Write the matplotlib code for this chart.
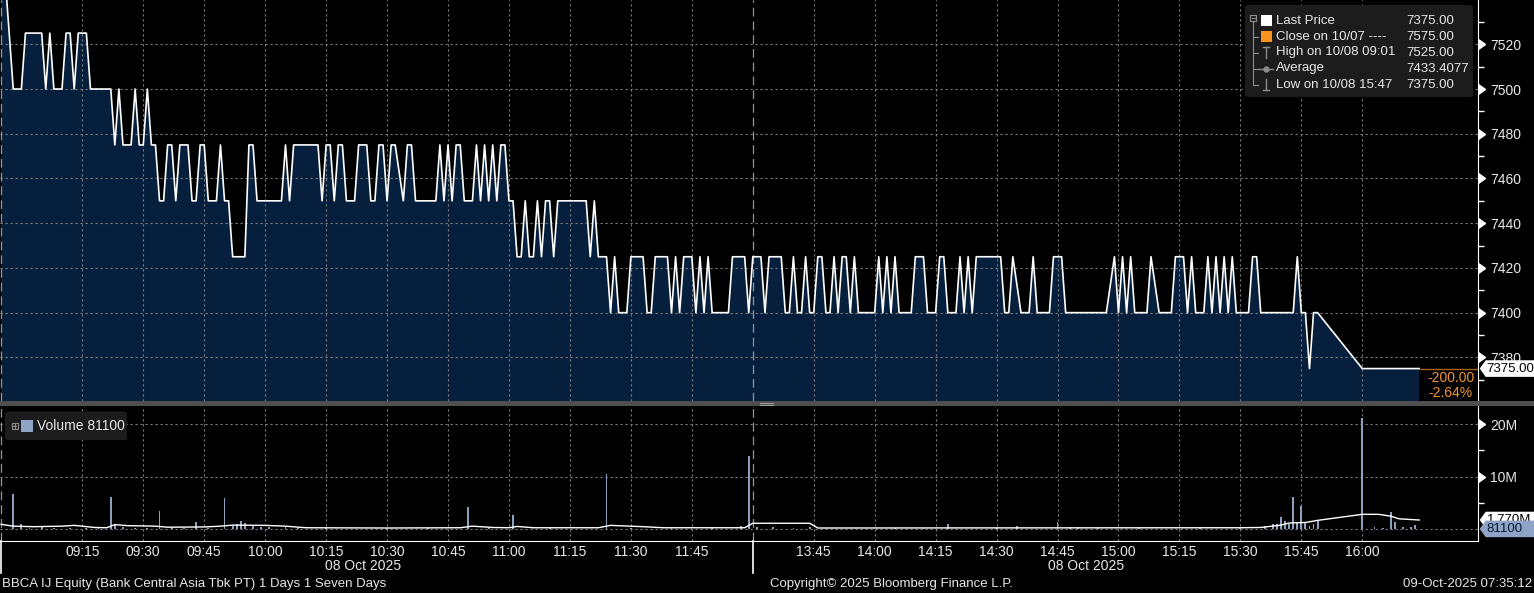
import matplotlib.pyplot as plt
from matplotlib.patches import Rectangle, FancyBboxPatch, Polygon
from matplotlib.lines import Line2D
from matplotlib.markers import CARETRIGHTBASE

plt.rcParams['font.family'] = ['Liberation Sans', 'DejaVu Sans']

# price path, morning session (vertices of the 1-min close line)
am_times = ["08:55", "08:58", "09:00", "09:01", "09:05", "09:06", "09:07", "09:08", "09:10", "09:11",
            "09:12", "09:13", "09:14", "09:16", "09:17", "09:22", "09:23", "09:24", "09:25", "09:27",
            "09:28", "09:29", "09:30", "09:31", "09:32", "09:33", "09:34", "09:35", "09:36", "09:37",
            "09:38", "09:39", "09:41", "09:42", "09:43", "09:44", "09:45", "09:46", "09:48", "09:49",
            "09:50", "09:51", "09:52", "09:55", "09:56", "09:57", "09:58", "10:04", "10:05", "10:06",
            "10:07", "10:13", "10:14", "10:15", "10:16", "10:17", "10:18", "10:19", "10:20", "10:22",
            "10:23", "10:25", "10:26", "10:27", "10:28", "10:29", "10:30", "10:31", "10:32", "10:34",
            "10:35", "10:36", "10:37", "10:42", "10:43", "10:44", "10:45", "10:46", "10:47", "10:48",
            "10:49", "10:51", "10:52", "10:53", "10:54", "10:55", "10:56", "10:57", "10:58", "10:59",
            "11:00", "11:01", "11:02", "11:03", "11:04", "11:05", "11:06", "11:07", "11:08", "11:09",
            "11:10", "11:11", "11:12", "11:19", "11:20", "11:21", "11:22", "11:24", "11:25", "11:26",
            "11:27", "11:29", "11:30", "11:33", "11:34", "11:35", "11:36", "11:39", "11:40", "11:41",
            "11:42", "11:43", "11:45", "11:46", "11:47", "11:48", "11:49", "11:50", "11:54", "11:55",
            "11:58", "11:59"]
am_prices = [7575, 7500, 7500, 7525, 7525, 7500, 7525, 7500, 7500, 7525,
             7525, 7500, 7525, 7525, 7500, 7500, 7475, 7500, 7475, 7475,
             7500, 7475, 7475, 7500, 7475, 7475, 7450, 7450, 7475, 7475,
             7450, 7475, 7475, 7450, 7450, 7475, 7475, 7450, 7450, 7475,
             7450, 7450, 7425, 7425, 7475, 7475, 7450, 7450, 7475, 7450,
             7475, 7475, 7450, 7475, 7475, 7450, 7475, 7475, 7450, 7450,
             7475, 7475, 7450, 7450, 7475, 7475, 7450, 7475, 7475, 7450,
             7475, 7475, 7450, 7450, 7475, 7450, 7475, 7450, 7475, 7475,
             7450, 7450, 7475, 7450, 7475, 7450, 7475, 7450, 7475, 7475,
             7450, 7450, 7425, 7425, 7450, 7425, 7425, 7450, 7425, 7450,
             7450, 7425, 7450, 7450, 7425, 7450, 7425, 7425, 7400, 7425,
             7400, 7400, 7425, 7425, 7400, 7400, 7425, 7425, 7400, 7425,
             7400, 7425, 7425, 7400, 7425, 7400, 7425, 7400, 7400, 7425,
             7425, 7400]

# price path, afternoon session
pm_times = ["13:30", "13:32", "13:33", "13:34", "13:37", "13:38", "13:39", "13:40", "13:41", "13:42",
            "13:43", "13:44", "13:45", "13:46", "13:47", "13:48", "13:49", "13:50", "13:51", "13:52",
            "13:53", "13:54", "13:55", "13:56", "14:00", "14:01", "14:02", "14:03", "14:04", "14:05",
            "14:06", "14:09", "14:10", "14:12", "14:13", "14:15", "14:16", "14:17", "14:18", "14:20",
            "14:21", "14:22", "14:23", "14:24", "14:25", "14:31", "14:32", "14:33", "14:34", "14:36",
            "14:38", "14:39", "14:40", "14:43", "14:44", "14:46", "14:47", "14:57", "14:59", "15:00",
            "15:01", "15:02", "15:03", "15:04", "15:07", "15:08", "15:10", "15:13", "15:14", "15:16",
            "15:17", "15:18", "15:19", "15:21", "15:22", "15:23", "15:24", "15:25", "15:26", "15:27",
            "15:28", "15:29", "15:32", "15:33", "15:34", "15:35", "15:43", "15:44", "15:45", "15:46",
            "15:47", "15:48", "15:49", "16:00", "16:14"]
pm_prices = [7425, 7425, 7400, 7425, 7425, 7400, 7400, 7425, 7400, 7400,
             7425, 7400, 7400, 7425, 7425, 7400, 7400, 7425, 7400, 7425,
             7425, 7400, 7425, 7400, 7400, 7425, 7400, 7425, 7400, 7425,
             7400, 7400, 7425, 7425, 7400, 7400, 7425, 7425, 7400, 7400,
             7425, 7400, 7425, 7400, 7425, 7425, 7400, 7400, 7425, 7400,
             7400, 7425, 7400, 7400, 7425, 7425, 7400, 7400, 7425, 7400,
             7425, 7400, 7425, 7400, 7400, 7425, 7400, 7400, 7425, 7425,
             7400, 7425, 7400, 7400, 7425, 7400, 7425, 7400, 7425, 7400,
             7425, 7400, 7400, 7425, 7425, 7400, 7400, 7425, 7400, 7400,
             7375, 7400, 7400, 7375, 7375]

# volume bars (millions of shares)
vol_times = ["08:58", "09:00", "09:02", "09:05", "09:08", "09:12", "09:16", "09:19", "09:22", "09:23",
             "09:25", "09:28", "09:31", "09:34", "09:37", "09:40", "09:43", "09:46", "09:50", "09:52",
             "09:53", "09:54", "09:55", "09:57", "09:59", "10:01", "10:05", "10:08", "10:15", "10:30",
             "10:40", "10:50", "10:55", "11:01", "11:10", "11:24", "11:30", "11:40", "11:50", "11:57",
             "11:59", "13:31", "13:35", "13:40", "13:44", "14:05", "14:12", "14:18", "14:30", "14:35",
             "14:45", "14:48", "14:50", "14:55", "15:05", "15:20", "15:30", "15:36", "15:38", "15:39",
             "15:40", "15:41", "15:42", "15:43", "15:44", "15:45", "15:46", "15:47", "15:48", "15:49",
             "16:00", "16:03", "16:05", "16:07", "16:08", "16:10", "16:12", "16:13", "16:14"]
vol_millions = [6.8, 1.0, 0.3, 0.4, 0.3, 0.3, 0.3, 0.2, 6.2, 0.8,
                0.4, 0.3, 0.3, 3.4, 0.3, 0.3, 1.4, 0.3, 6.0, 0.6,
                1.1, 1.6, 1.2, 0.6, 0.5, 0.5, 0.4, 0.3, 0.3, 0.2,
                0.3, 4.2, 0.3, 2.8, 0.3, 10.5, 0.2, 0.3, 0.3, 0.6,
                13.9, 0.5, 0.4, 0.3, 0.4, 0.2, 0.3, 1.0, 0.3, 0.6,
                1.3, 0.5, 0.4, 0.3, 0.3, 0.3, 0.2, 0.7, 1.0, 1.0,
                2.4, 1.6, 1.0, 6.2, 1.4, 4.4, 1.2, 0.7, 1.0, 1.6,
                21.2, 0.4, 0.3, 3.2, 1.4, 0.4, 0.5, 0.8, 0.08]

# volume average line (millions)
avg_times = ["08:55", "08:58", "09:03", "09:10", "09:13", "09:18", "09:21", "09:23", "09:26", "09:33",
             "09:36", "09:45", "09:49", "09:52", "10:00", "10:05", "10:10", "10:30", "10:48", "10:51",
             "10:56", "11:00", "11:02", "11:06", "11:22", "11:25", "11:33", "11:38", "11:58", "13:30",
             "13:44", "13:46", "15:30", "15:35", "15:40", "15:42", "15:46", "15:49", "16:00", "16:04",
             "16:07", "16:09", "16:14"]
avg_millions = [0.95, 0.6, 0.5, 0.6, 0.75, 0.35, 0.3, 0.9, 0.7, 0.6,
                0.4, 0.45, 0.6, 0.8, 0.75, 0.6, 0.3, 0.25, 0.3, 0.6,
                0.35, 0.3, 0.55, 0.3, 0.3, 0.75, 0.5, 0.3, 0.3, 1.15,
                1.15, 0.25, 0.3, 0.35, 0.8, 1.2, 1.3, 1.7, 2.85, 2.85,
                2.5, 2.0, 1.77]

x_ticks = ["09:15", "09:30", "09:45", "10:00", "10:15", "10:30", "10:45", "11:00", "11:15", "11:30",
           "11:45", "13:45", "14:00", "14:15", "14:30", "14:45", "15:00", "15:15", "15:30", "15:45", "16:00"]
price_ticks = [7380, 7400, 7420, 7440, 7460, 7480, 7500, 7520]
price_minor = [7370, 7390, 7410, 7430, 7450, 7470, 7490, 7510, 7530]
vol_ticks = [10, 20]
vol_minor = [5, 15]
date_label_times = ["10:24", "14:52"]

prev_close = 7575
last_price = 7375
high_price = 7525
low_price = 7375
avg_price = 7433.4077
last_volume = 81100
last_vol_avg = 1.770


def pos(t):
    # compressed session axis: 09:00 -> 0, 12:00 and 13:30 -> 180
    h, m = map(int, t.split(':'))
    mins = h * 60 + m
    if mins <= 12 * 60:
        return mins - 9 * 60
    return 180 + mins - (13 * 60 + 30)


W, H = 1534, 593
NAVY = '#061f3d'
TXT = '#e8e8e8'
GRID = '#7c7c7c'
FS = 10
FS_SMALL = 9.5

fig = plt.figure(figsize=(W / 100, H / 100), dpi=100, facecolor='black')
ax = fig.add_axes([0, 1 - 401 / H, 1477.7 / W, 401 / H])
axv = fig.add_axes([0, 1 - 541 / H, 1477.7 / W, 135 / H], sharex=ax)

for a in (ax, axv):
    a.set_facecolor('black')
    for s in a.spines.values():
        s.set_visible(False)
    a.spines['right'].set_visible(True)
    a.spines['right'].set_color('white')
axv.spines['bottom'].set_visible(True)
axv.spines['bottom'].set_color('white')

xlim = (-5.26, 358.4)
ax.set_xlim(*xlim)
ax.set_ylim(7360.5, 7539.8)
axv.set_ylim(-2.22, 23.44)

# price area
xp = [pos(t) for t in am_times + pm_times]
yp = am_prices + pm_prices
ax.fill_between(xp, yp, 7300, color=NAVY, lw=0, zorder=1)
ax.plot(xp, yp, color='white', lw=1.2, zorder=3)

# volume
axv.bar([pos(t) for t in vol_times], vol_millions, width=0.45, color='#8ea0c0', lw=0, zorder=3)
axv.plot([pos(t) for t in avg_times], avg_millions, color='white', lw=1.0, zorder=4)

# grid
gkw = dict(color=GRID, lw=0.8, ls=(0, (2, 2.5)), zorder=2)
for t in x_ticks:
    ax.axvline(pos(t), **gkw)
    axv.axvline(pos(t), **gkw)
for v in price_ticks:
    ax.axhline(v, **gkw)
for v in [0] + vol_ticks:
    axv.axhline(v, **gkw)
skw = dict(color='#959595', lw=0.9, ls=(0, (7, 4)), zorder=2)
for t in ["08:55", "12:00"]:
    ax.axvline(pos(t), **skw)
    axv.axvline(pos(t), **skw)
    axv.plot([pos(t), pos(t)], [0, -0.24], color='white', lw=1.2,
             transform=axv.get_xaxis_transform(), clip_on=False)

# x axis
ax.tick_params(axis='x', labelbottom=False, length=0)
axv.set_xticks([pos(t) for t in x_ticks])
axv.set_xticklabels(x_ticks)
axv.tick_params(axis='x', length=0, pad=3, labelsize=FS, labelcolor=TXT)
for t in date_label_times:
    axv.text(pos(t), -0.185, "08 Oct 2025", transform=axv.get_xaxis_transform(),
             ha='center', va='center', color=TXT, fontsize=FS)

# y axes on the right
for a, major, minor, labels in ((ax, price_ticks, price_minor, [str(v) for v in price_ticks]),
                                (axv, vol_ticks, vol_minor, [f"{v}M" for v in vol_ticks])):
    a.yaxis.tick_right()
    a.set_yticks(major)
    a.set_yticklabels(labels)
    a.set_yticks(minor, minor=True)
    a.tick_params(axis='y', which='major', length=0, pad=9, labelsize=FS, labelcolor=TXT)
    a.tick_params(axis='y', which='minor', length=4, width=1, color='white')
    a.plot([1.0] * len(major), major, ls='none', marker=CARETRIGHTBASE, ms=6.5, color='white',
           transform=a.get_yaxis_transform(), clip_on=False, zorder=5)

# change box at the end of the price line
x_last = pos(pm_times[-1])
ax.add_patch(Rectangle((x_last, 7300), xlim[1] - x_last, last_price - 7300, fc='black', ec='none', zorder=4))
ax.plot([x_last, xlim[1]], [last_price, last_price], color='#a8621c', lw=1.0, zorder=5)
change = last_price - prev_close
pct = change / prev_close * 100
ax.text(x_last + 2, 7371, f"{change:.2f}", color='#f0952e', fontsize=FS, va='center', zorder=6)
ax.text(x_last + 2.3, 7364, f"{pct:.2f}%", color='#f0952e', fontsize=FS, va='center', zorder=6)


def fx(x):
    return x / W


def fy(y):
    return 1 - y / H


def tag(a, value, text, fc, tc, z):
    yd = a.transData.transform((0, value))[1] / H
    x0 = a.transAxes.transform((1, 0))[0] + 2
    h = 8.3 / H
    pts = [(fx(x0), yd), (fx(x0 + 6), yd + h), (1, yd + h), (1, yd - h), (fx(x0 + 6), yd - h)]
    fig.add_artist(Polygon(pts, closed=True, transform=fig.transFigure, fc=fc, ec='none', zorder=z))
    fig.text(fx(x0 + 7), yd, text, color=tc, fontsize=FS_SMALL, va='center', ha='left', zorder=z + 0.1)


tag(ax, last_price, f"{last_price:.2f}", 'white', 'black', 10)
tag(axv, last_vol_avg, f"{last_vol_avg:.3f}M", 'white', 'black', 10)
tag(axv, last_volume / 1e6, f"{last_volume}", '#8ea3c6', '#0b1a33', 12)

# separator between panels
fig.add_artist(Rectangle((0, fy(406)), 1, 5 / H, transform=fig.transFigure, fc='#4f4f4f', ec='none', zorder=8))
for yy in (402.8, 404.8):
    fig.add_artist(Line2D([fx(760), fx(773)], [fy(yy), fy(yy)], transform=fig.transFigure,
                          color='#9c9c9c', lw=0.8, zorder=9))

# price legend
gray = '#8c8c8c'
fig.add_artist(FancyBboxPatch((fx(1245), fy(97)), fx(1473) - fx(1245), fy(5) - fy(97),
                              boxstyle='round,pad=0,rounding_size=0.003', transform=fig.transFigure,
                              fc='#1c1c1c', ec='none', zorder=9))
rows = [("Last Price", f"{last_price:.2f}"),
        ("Close on 10/07 ----", f"{prev_close:.2f}"),
        ("High on 10/08 09:01", f"{high_price:.2f}"),
        ("Average", f"{avg_price:.4f}"),
        ("Low on 10/08 15:47", f"{low_price:.2f}")]
row_y = [20.5, 36.5, 52.5, 68.5, 84.5]
for (lab, val), yy in zip(rows, row_y):
    fig.text(fx(1276), fy(yy), lab, color=TXT, fontsize=FS_SMALL, va='center', zorder=10)
    fig.text(fx(1406), fy(yy), val, color=TXT, fontsize=FS_SMALL, va='center', zorder=10)


def fline(xs, ys, **kw):
    fig.add_artist(Line2D([fx(v) for v in xs], [fy(v) for v in ys], transform=fig.transFigure,
                          zorder=10, **kw))


fig.add_artist(Rectangle((fx(1250), fy(21)), 6 / W, 6 / H, transform=fig.transFigure,
                         fc='none', ec=gray, lw=0.8, zorder=10))
fline([1251.5, 1254.5], [18, 18], color=gray, lw=0.8)
fline([1253, 1253], [21, 84.5], color=gray, lw=0.8)
for yy in row_y[1:]:
    fline([1253, 1258], [yy, yy], color=gray, lw=0.8)
fig.add_artist(Rectangle((fx(1261), fy(26)), 11 / W, 11 / H, transform=fig.transFigure,
                         fc='white', ec='none', zorder=10))
fig.add_artist(Rectangle((fx(1261), fy(42)), 11 / W, 11 / H, transform=fig.transFigure,
                         fc='#f7931e', ec='none', zorder=10))
fline([1263, 1269], [47, 47], color=gray, lw=1)
fline([1266, 1266], [47, 57.5], color=gray, lw=1)
fline([1258, 1273], [68.5, 68.5], color=gray, lw=1)
fline([1265.5], [68.5], color=gray, marker='o', ms=3.5, ls='none')
fline([1266, 1266], [79, 89.5], color=gray, lw=1)
fline([1263, 1269], [89.5, 89.5], color=gray, lw=1)

# volume legend
fig.add_artist(FancyBboxPatch((fx(5), fy(440)), fx(127) - fx(5), fy(411.5) - fy(440),
                              boxstyle='round,pad=0,rounding_size=0.003', transform=fig.transFigure,
                              fc='#1c1c1c', ec='none', zorder=9))
fig.add_artist(Rectangle((fx(11.5), fy(429)), 6 / W, 6 / H, transform=fig.transFigure,
                         fc='none', ec=gray, lw=0.8, zorder=10))
fline([12.8, 16.2], [426, 426], color=gray, lw=0.8)
fline([14.5, 14.5], [424.3, 427.7], color=gray, lw=0.8)
fig.add_artist(Rectangle((fx(20.7), fy(432)), 12 / W, 12 / H, transform=fig.transFigure,
                         fc='#8ea3c6', ec='none', zorder=10))
fig.text(fx(36.7), fy(426.5), f"Volume {last_volume}", color=TXT, fontsize=FS, va='center', zorder=10)

# footer
fig.text(fx(2), fy(584), "BBCA IJ Equity (Bank Central Asia Tbk PT) 1 Days 1 Seven Days",
         color=TXT, fontsize=FS_SMALL, va='center', ha='left')
fig.text(fx(892), fy(584), "Copyright\u00a9 2025 Bloomberg Finance L.P.",
         color=TXT, fontsize=FS_SMALL, va='center', ha='center')
fig.text(fx(1532), fy(584), "09-Oct-2025 07:35:12", color=TXT, fontsize=FS_SMALL, va='center', ha='right')

fig.savefig('out.png', dpi=100, facecolor='black')
